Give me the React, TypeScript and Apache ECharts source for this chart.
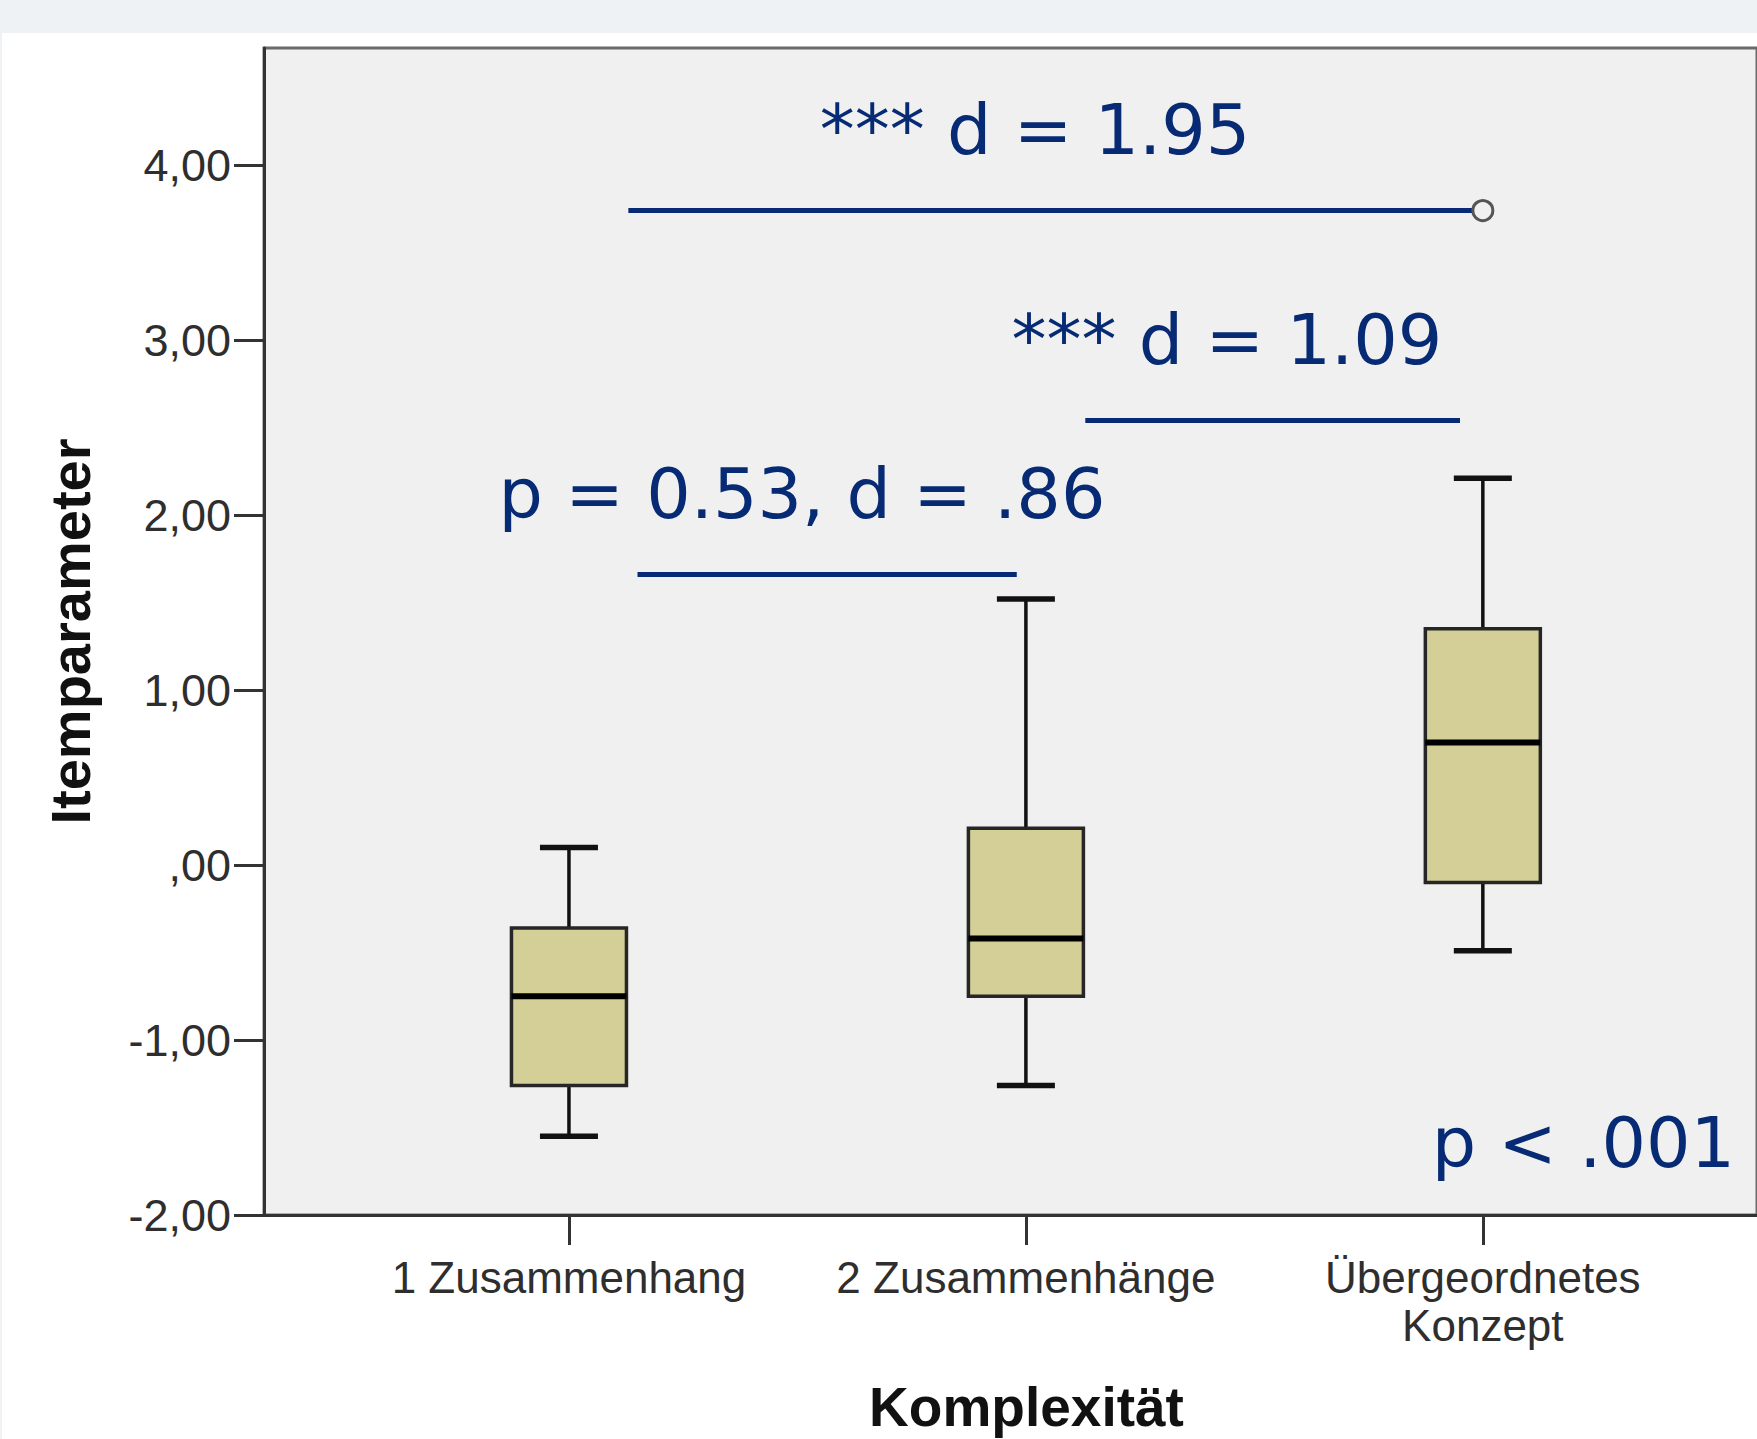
import React, { useEffect, useRef } from 'react';
import * as echarts from 'echarts';

// ---- data ----
const categories = ['1 Zusammenhang', '2 Zusammenhänge', 'Übergeordnetes\nKonzept'];
const categoryPositions = [1, 2, 3];
const boxMin = [-1.55, -1.26, -0.49];
const boxQ1 = [-1.26, -0.75, -0.1];
const boxMedian = [-0.75, -0.42, 0.7];
const boxQ3 = [-0.36, 0.21, 1.35];
const boxMax = [0.1, 1.52, 2.21];
const outlierX = [3];
const outlierY = [3.74];
const yTicks = [-2, -1, 0, 1, 2, 3, 4];

// comparison brackets (data coordinates)
const bracketFrom = [1.13, 2.13, 1.15];
const bracketTo = [3.0, 2.95, 1.98];
const bracketLevel = [3.74, 2.54, 1.66];

// annotation texts and anchors (data coordinates)
const annotationTexts = ['*** d = 1.95', '*** d = 1.09', 'p = 0.53, d = .86', 'p < .001'];
const annotationX = [2.02, 2.44, 1.51, 3.22];
const annotationY = [4.2, 3.0, 2.12, -1.59];

const NAVY = '#062a73';
const SANS = '"Liberation Sans", Arial, sans-serif';

function fmtY(v: number) {
  if (v === 0) return ',00';
  return v.toFixed(2).replace('.', ',');
}

export default function App() {
  const ref = useRef<HTMLDivElement>(null);

  useEffect(() => {
    const chart = echarts.init(ref.current!, null, { renderer: 'svg' });
    const boxData = categoryPositions.map((x, i) => [x, boxMin[i], boxQ1[i], boxMedian[i], boxQ3[i], boxMax[i]]);

    const option: any = {
      animation: false,
      backgroundColor: '#ffffff',
      graphic: [
        { type: 'rect', left: 0, top: 0, shape: { width: 1757, height: 33 }, style: { fill: '#eef2f5' }, silent: true },
        { type: 'rect', left: 0, top: 0, shape: { width: 2, height: 1439 }, style: { fill: '#eef2f5' }, silent: true },
      ],
      grid: {
        left: 264,
        top: 48,
        right: 0,
        bottom: 224,
        show: true,
        backgroundColor: '#f0f0f0',
        borderColor: '#6a6a6a',
        borderWidth: 3,
      },
      xAxis: {
        type: 'value',
        min: 0.3326,
        max: 3.6,
        name: 'Komplexität',
        nameLocation: 'middle',
        nameGap: 164,
        nameTextStyle: {
          fontSize: 55,
          fontWeight: 'bold',
          color: '#111',
          fontFamily: SANS,
          lineHeight: 55,
          padding: [0, 0, 0, 32],
        },
        axisLine: { show: true, onZero: false, lineStyle: { color: '#333', width: 3 } },
        axisTick: { show: true, customValues: categoryPositions, length: 30, lineStyle: { color: '#333', width: 3 } },
        axisLabel: {
          customValues: categoryPositions,
          formatter: (v: number) => categories[Math.round(v) - 1] ?? '',
          fontSize: 44,
          lineHeight: 48,
          margin: 38,
          color: '#2e2e2e',
          fontFamily: SANS,
        },
        splitLine: { show: false },
      },
      yAxis: {
        type: 'value',
        min: -2,
        max: 4.669,
        name: 'Itemparameter',
        nameLocation: 'middle',
        nameGap: 166,
        nameTextStyle: { fontSize: 56, fontWeight: 'bold', color: '#111', fontFamily: SANS, lineHeight: 56 },
        axisLine: { show: true, onZero: false, lineStyle: { color: '#333', width: 3 } },
        axisTick: { show: true, customValues: yTicks, length: 30, lineStyle: { color: '#333', width: 3 } },
        axisLabel: {
          customValues: yTicks,
          formatter: (v: number) => fmtY(v),
          fontSize: 45,
          margin: 33,
          color: '#2e2e2e',
          fontFamily: SANS,
        },
        splitLine: { show: false },
      },
      series: [
        {
          type: 'custom',
          name: 'box',
          z: 2,
          silent: true,
          data: boxData,
          encode: { x: 0, y: [1, 2, 3, 4, 5] },
          renderItem: (params: any, api: any) => {
            const x = api.value(0);
            const lo = api.coord([x, api.value(1)]);
            const q1 = api.coord([x, api.value(2)]);
            const md = api.coord([x, api.value(3)]);
            const q3 = api.coord([x, api.value(4)]);
            const hi = api.coord([x, api.value(5)]);
            const cx = lo[0];
            const bw = 115;
            const cw = 58;
            const wStyle = { stroke: '#111', lineWidth: 3.5 };
            const capStyle = { stroke: '#111', lineWidth: 5.5 };
            return {
              type: 'group',
              children: [
                { type: 'line', shape: { x1: cx, y1: lo[1], x2: cx, y2: q1[1] }, style: wStyle },
                { type: 'line', shape: { x1: cx, y1: hi[1], x2: cx, y2: q3[1] }, style: wStyle },
                { type: 'line', shape: { x1: cx - cw / 2, y1: lo[1], x2: cx + cw / 2, y2: lo[1] }, style: capStyle },
                { type: 'line', shape: { x1: cx - cw / 2, y1: hi[1], x2: cx + cw / 2, y2: hi[1] }, style: capStyle },
                {
                  type: 'rect',
                  shape: { x: cx - bw / 2, y: q3[1], width: bw, height: q1[1] - q3[1] },
                  style: { fill: '#d3cf97', stroke: '#262626', lineWidth: 3.5 },
                },
                { type: 'line', shape: { x1: cx - bw / 2, y1: md[1], x2: cx + bw / 2, y2: md[1] }, style: { stroke: '#000', lineWidth: 6 } },
              ],
            };
          },
        },
        ...bracketLevel.map((lvl, i) => ({
          type: 'line',
          name: 'bracket' + i,
          z: 3,
          silent: true,
          symbol: 'none',
          lineStyle: { color: NAVY, width: 5 },
          data: [
            [bracketFrom[i], lvl],
            [bracketTo[i], lvl],
          ],
        })),
        {
          type: 'scatter',
          name: 'outlier',
          z: 5,
          silent: true,
          symbol: 'circle',
          symbolSize: 20,
          itemStyle: { color: '#f0f0f0', borderColor: '#555', borderWidth: 3, opacity: 1 },
          data: outlierX.map((x, i) => [x, outlierY[i]]),
        },
        {
          type: 'custom',
          name: 'annotations',
          z: 6,
          silent: true,
          data: annotationTexts.map((t, i) => [annotationX[i], annotationY[i], i]),
          encode: { x: 0, y: 1 },
          renderItem: (params: any, api: any) => {
            const p = api.coord([api.value(0), api.value(1)]);
            return {
              type: 'text',
              x: p[0],
              y: p[1],
              style: {
                text: annotationTexts[api.value(2)],
                fontSize: 70,
                fontFamily: '"DejaVu Sans", sans-serif',
                fill: NAVY,
                align: 'center',
                verticalAlign: 'middle',
                opacity: 1,
              },
            };
          },
        },
      ],
    };

    chart.setOption(option);
    return () => chart.dispose();
  }, []);

  return (
    <div style={{ position: 'fixed', left: 0, top: 0, width: 1757, height: 1439, background: '#fff' }}>
      <div ref={ref} style={{ width: 1757, height: 1439 }} />
    </div>
  );
}
